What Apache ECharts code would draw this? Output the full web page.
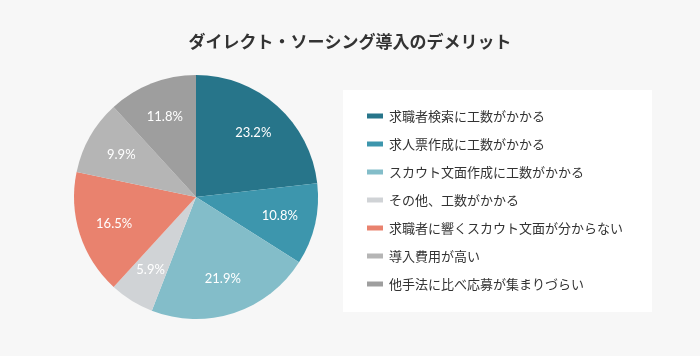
<!DOCTYPE html>
<html>
<head>
<meta charset="utf-8">
<script src="https://cdn.jsdelivr.net/npm/echarts@6/dist/echarts.min.js"></script>
<style>
html,body{margin:0;padding:0;background:#f7f7f7;}
#main{width:700px;height:356px;}
</style>
</head>
<body>
<div id="main"></div>
<script>
const titleText = 'ダイレクト・ソーシング導入のデメリット';
const categories = [
  '求職者検索に工数がかかる',
  '求人票作成に工数がかかる',
  'スカウト文面作成に工数がかかる',
  'その他、工数がかかる',
  '求職者に響くスカウト文面が分からない',
  '導入費用が高い',
  '他手法に比べ応募が集まりづらい'
];
const values = [23.2, 10.8, 21.9, 5.9, 16.5, 9.9, 11.8];
const colors = ['#27758a', '#3d96ad', '#83bdc9', '#d0d3d6', '#e9826e', '#b5b5b5', '#9e9e9e'];

const pieData = categories.map((n, i) => ({ name: n, value: values[i] }));

const chart = echarts.init(document.getElementById('main'), null, { renderer: 'canvas' });
chart.setOption({
  backgroundColor: '#f7f7f7',
  color: colors,
  animation: false,
  title: {
    text: titleText,
    left: 'center',
    top: 28,
    textStyle: {
      fontFamily: '"Noto Sans CJK JP", sans-serif',
      fontSize: 17,
      fontWeight: 'bold',
      color: '#333333'
    }
  },
  graphic: [{
    type: 'rect',
    z: 0,
    shape: { x: 343, y: 90, width: 309, height: 222 },
    style: { fill: '#ffffff' }
  }],
  legend: {
    orient: 'vertical',
    left: 362,
    top: 104,
    itemWidth: 16,
    itemHeight: 5,
    itemGap: 14,
    icon: 'rect',
    data: categories,
    textStyle: {
      fontFamily: '"Noto Sans CJK JP", sans-serif',
      fontSize: 13,
      lineHeight: 14,
      color: '#333333',
      padding: [0, 0, 0, 1]
    }
  },
  series: [
    {
      type: 'pie',
      center: [196, 197],
      radius: [0, 122],
      startAngle: 90,
      clockwise: true,
      silent: true,
      label: { show: false },
      labelLine: { show: false },
      itemStyle: { borderWidth: 0 },
      data: pieData
    },
    {
      type: 'pie',
      center: [196, 197],
      radius: [0, 166],
      startAngle: 90,
      clockwise: true,
      silent: true,
      z: 3,
      itemStyle: { color: 'rgba(0,0,0,0)', borderWidth: 0 },
      label: {
        show: true,
        position: 'inside',
        formatter: p => p.value.toFixed(1) + '%',
        color: '#ffffff',
        fontFamily: 'Lato, sans-serif',
        fontWeight: 'normal',
        fontSize: 13
      },
      labelLine: { show: false },
      data: pieData
    }
  ]
});
</script>
</body>
</html>
